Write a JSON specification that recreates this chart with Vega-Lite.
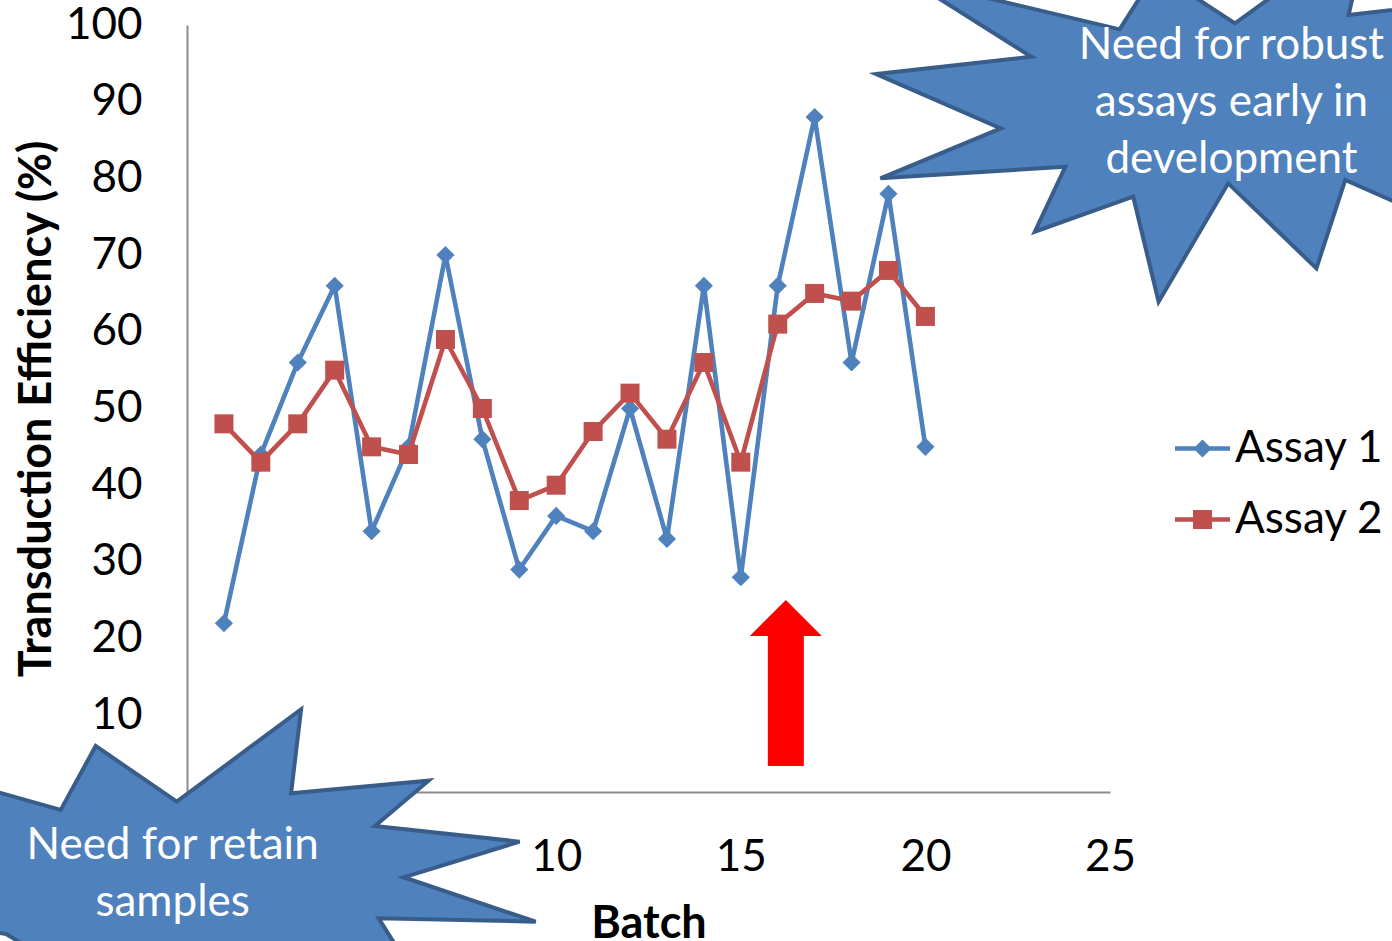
{
  "$schema": "https://vega.github.io/schema/vega-lite/v6.json",
  "width": 923,
  "height": 767,
  "autosize": {"type": "none"},
  "padding": {"left": 187, "top": 25, "right": 282, "bottom": 149},
  "background": "white",
  "config": {"view": {"stroke": null}, "font": "Lato"},
  "layer": [
    {
      "data": {
        "values": [
          {"batch": 1, "series": "Assay 1", "efficiency": 22},
          {"batch": 2, "series": "Assay 1", "efficiency": 44},
          {"batch": 3, "series": "Assay 1", "efficiency": 56},
          {"batch": 4, "series": "Assay 1", "efficiency": 66},
          {"batch": 5, "series": "Assay 1", "efficiency": 34},
          {"batch": 6, "series": "Assay 1", "efficiency": 45},
          {"batch": 7, "series": "Assay 1", "efficiency": 70},
          {"batch": 8, "series": "Assay 1", "efficiency": 46},
          {"batch": 9, "series": "Assay 1", "efficiency": 29},
          {"batch": 10, "series": "Assay 1", "efficiency": 36},
          {"batch": 11, "series": "Assay 1", "efficiency": 34},
          {"batch": 12, "series": "Assay 1", "efficiency": 50},
          {"batch": 13, "series": "Assay 1", "efficiency": 33},
          {"batch": 14, "series": "Assay 1", "efficiency": 66},
          {"batch": 15, "series": "Assay 1", "efficiency": 28},
          {"batch": 16, "series": "Assay 1", "efficiency": 66},
          {"batch": 17, "series": "Assay 1", "efficiency": 88},
          {"batch": 18, "series": "Assay 1", "efficiency": 56},
          {"batch": 19, "series": "Assay 1", "efficiency": 78},
          {"batch": 20, "series": "Assay 1", "efficiency": 45},
          {"batch": 1, "series": "Assay 2", "efficiency": 48},
          {"batch": 2, "series": "Assay 2", "efficiency": 43},
          {"batch": 3, "series": "Assay 2", "efficiency": 48},
          {"batch": 4, "series": "Assay 2", "efficiency": 55},
          {"batch": 5, "series": "Assay 2", "efficiency": 45},
          {"batch": 6, "series": "Assay 2", "efficiency": 44},
          {"batch": 7, "series": "Assay 2", "efficiency": 59},
          {"batch": 8, "series": "Assay 2", "efficiency": 50},
          {"batch": 9, "series": "Assay 2", "efficiency": 38},
          {"batch": 10, "series": "Assay 2", "efficiency": 40},
          {"batch": 11, "series": "Assay 2", "efficiency": 47},
          {"batch": 12, "series": "Assay 2", "efficiency": 52},
          {"batch": 13, "series": "Assay 2", "efficiency": 46},
          {"batch": 14, "series": "Assay 2", "efficiency": 56},
          {"batch": 15, "series": "Assay 2", "efficiency": 43},
          {"batch": 16, "series": "Assay 2", "efficiency": 61},
          {"batch": 17, "series": "Assay 2", "efficiency": 65},
          {"batch": 18, "series": "Assay 2", "efficiency": 64},
          {"batch": 19, "series": "Assay 2", "efficiency": 68},
          {"batch": 20, "series": "Assay 2", "efficiency": 62}
        ]
      },
      "encoding": {
        "x": {
          "field": "batch",
          "type": "quantitative",
          "scale": {"domain": [0, 25], "nice": false, "zero": false},
          "axis": {
            "title": "Batch",
            "values": [10, 15, 20, 25],
            "grid": false,
            "ticks": false,
            "tickSize": 0,
            "labelPadding": 43,
            "labelFont": "Lato",
            "labelFontSize": 44,
            "labelColor": "#000000",
            "labelFlush": false,
            "labelOverlap": false,
            "domainColor": "#8C8C8C",
            "domainWidth": 2,
            "titleFont": "Lato",
            "titleFontSize": 45,
            "titleFontWeight": "bold",
            "titleColor": "#000000",
            "titlePadding": 22
          }
        },
        "y": {
          "field": "efficiency",
          "type": "quantitative",
          "scale": {"domain": [0, 100], "nice": false},
          "axis": {
            "title": "Transduction Efficiency (%)",
            "values": [10, 20, 30, 40, 50, 60, 70, 80, 90, 100],
            "grid": false,
            "ticks": false,
            "tickSize": 0,
            "labelPadding": 45,
            "labelFont": "Lato",
            "labelFontSize": 44,
            "labelColor": "#000000",
            "labelFlush": false,
            "labelOverlap": false,
            "domainColor": "#8C8C8C",
            "domainWidth": 2,
            "titleFont": "Lato",
            "titleFontSize": 45,
            "titleFontWeight": "bold",
            "titleColor": "#000000",
            "titlePadding": 6
          }
        },
        "color": {
          "field": "series",
          "type": "nominal",
          "scale": {"domain": ["Assay 1", "Assay 2"], "range": ["#4F81BD", "#C0504D"]},
          "legend": {
            "title": null,
            "orient": "none",
            "legendX": 988,
            "legendY": 396,
            "padding": 0,
            "labelFont": "Lato",
            "labelFontSize": 44,
            "labelColor": "#000000",
            "labelOffset": 5,
            "symbolSize": 3025,
            "rowPadding": 21,
            "encode": {
              "symbols": {
                "update": {
                  "shape": {"signal": "datum.value === 'Assay 1' ? 'M-1,-0.082L1,-0.082L1,0.082L-1,0.082ZM0,-0.33L0.33,0L0,0.33L-0.33,0Z' : 'M-1,-0.082L1,-0.082L1,0.082L-1,0.082ZM-0.345,-0.345L0.345,-0.345L0.345,0.345L-0.345,0.345Z'"},
                  "fill": {"scale": "color", "field": "value"},
                  "fillOpacity": {"value": 1},
                  "strokeWidth": {"value": 0},
                  "opacity": {"value": 1}
                }
              }
            }
          }
        }
      },
      "layer": [
        {
          "transform": [{"filter": "datum.series === 'Assay 1'"}],
          "mark": {"type": "line", "strokeWidth": 4.6, "strokeJoin": "round", "strokeCap": "round"}
        },
        {
          "transform": [{"filter": "datum.series === 'Assay 1'"}],
          "mark": {"type": "point", "shape": "diamond", "filled": true, "opacity": 1, "size": 330}
        },
        {
          "transform": [{"filter": "datum.series === 'Assay 2'"}],
          "mark": {"type": "line", "strokeWidth": 4.6, "strokeJoin": "round", "strokeCap": "round"}
        },
        {
          "transform": [{"filter": "datum.series === 'Assay 2'"}],
          "mark": {"type": "point", "shape": "square", "filled": true, "opacity": 1, "size": 361}
        }
      ]
    },
    {
      "data": {"values": [{}]},
      "mark": {
        "type": "point",
        "shape": "M-326,-43L-170.9,-60.3L-293.5,-137.6L-82.7,-87.7L-46.1,-145.1L32.7,-93.7L166.3,-190.4L146.3,-102L257.7,-115L207.7,-12L267.7,118L142.9,63L114.1,151.3L25.9,66.3L-43.7,184.7L-69.1,79.7L-167.5,114.7L-137,49.7L-321.9,61.3L-201.5,11.3Z",
        "size": 4,
        "filled": true,
        "fill": "#4F81BD",
        "stroke": "#385D8A",
        "strokeWidth": 4,
        "opacity": 1,
        "fillOpacity": 1,
        "strokeOpacity": 1
      },
      "encoding": {
        "x": {"datum": 27.5, "type": "quantitative"},
        "y": {"datum": 88, "type": "quantitative"}
      }
    },
    {
      "data": {"values": [{}]},
      "mark": {
        "type": "text",
        "text": ["Need for robust", "assays early in", "development"],
        "font": "Lato",
        "fontSize": 44,
        "lineHeight": 57,
        "align": "center",
        "baseline": "alphabetic",
        "color": "#FFFFFF"
      },
      "encoding": {
        "x": {"datum": 28.29, "type": "quantitative"},
        "y": {"datum": 95.57, "type": "quantitative"}
      }
    },
    {
      "data": {"values": [{}]},
      "mark": {
        "type": "point",
        "shape": "M-416.6,-73.4L-310.9,-43.4L-275.9,-107.4L-194.8,-51.7L-70.5,-144.1L-80.5,-60.1L57,-72.7L3.4,-27.4L148,-11.7L32,23.9L164.1,68.3L7,64.9L58.4,146.6L-88.6,89.6L-221.6,166.6L-365.6,80.6L-461.6,66.6L-391.6,6.6Z",
        "size": 4,
        "filled": true,
        "fill": "#4F81BD",
        "stroke": "#385D8A",
        "strokeWidth": 4,
        "opacity": 1,
        "fillOpacity": 1,
        "strokeOpacity": 1
      },
      "encoding": {
        "x": {"datum": 5, "type": "quantitative"},
        "y": {"datum": -8, "type": "quantitative"}
      }
    },
    {
      "data": {"values": [{}]},
      "mark": {
        "type": "text",
        "text": ["Need for retain", "samples"],
        "font": "Lato",
        "fontSize": 44,
        "lineHeight": 57,
        "align": "center",
        "baseline": "alphabetic",
        "color": "#FFFFFF"
      },
      "encoding": {
        "x": {"datum": -0.39, "type": "quantitative"},
        "y": {"datum": -8.77, "type": "quantitative"}
      }
    },
    {
      "data": {"values": [{}]},
      "mark": {
        "type": "point",
        "shape": "M0,-77L36,-41L18,-41L18,89L-18,89L-18,-41L-36,-41Z",
        "size": 4,
        "filled": true,
        "fill": "#FF0000",
        "strokeWidth": 0,
        "opacity": 1,
        "fillOpacity": 1
      },
      "encoding": {
        "x": {"datum": 16.22, "type": "quantitative"},
        "y": {"datum": 15, "type": "quantitative"}
      }
    }
  ]
}
